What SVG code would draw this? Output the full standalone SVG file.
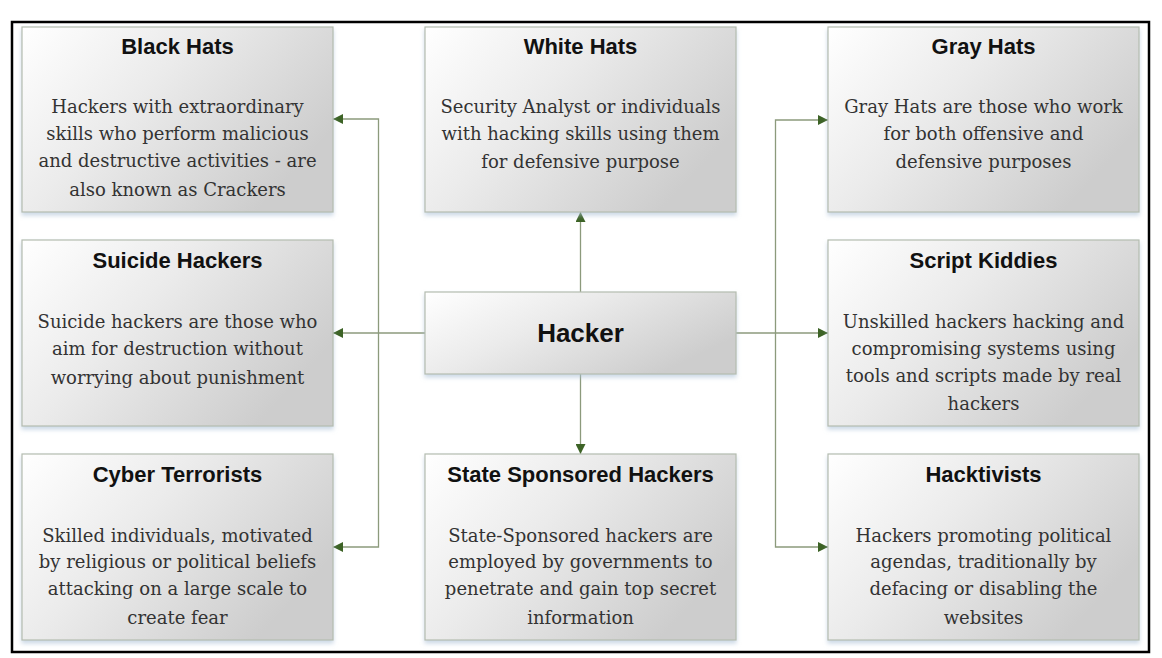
<svg xmlns="http://www.w3.org/2000/svg" width="1162" height="658" viewBox="0 0 1162 658">
<defs>
<linearGradient id="boxGrad" x1="0" y1="0" x2="1" y2="0.55">
<stop offset="0" stop-color="#ffffff"/>
<stop offset="0.45" stop-color="#ebebeb"/>
<stop offset="1" stop-color="#cdcdcd"/>
</linearGradient>
<filter id="shadow" x="-5%" y="-5%" width="110%" height="115%">
<feDropShadow dx="0" dy="3" stdDeviation="2" flood-color="#a9bfd6" flood-opacity="0.6"/>
</filter>
<marker id="arrow" viewBox="0 0 10 10" refX="10" refY="5" markerWidth="11" markerHeight="10" markerUnits="userSpaceOnUse" orient="auto">
<path d="M0,0 L10,5 L0,10 Z" fill="#3d6326"/>
</marker>
</defs>
<style>
.box{fill:url(#boxGrad);stroke:#b4bcb0;stroke-width:1.2;filter:url(#shadow)}
.title{font-family:"Liberation Sans",Arial,sans-serif;font-weight:bold;font-size:22px;fill:#111;text-anchor:middle}
.main{font-family:"Liberation Sans",Arial,sans-serif;font-weight:bold;font-size:26px;fill:#111;text-anchor:middle}
.body{font-family:"DejaVu Serif",serif;font-size:18px;fill:#333;text-anchor:middle}
.conn{fill:none;stroke:#8c9a7c;stroke-width:1.3}
</style>
<rect x="12" y="22" width="1137" height="630" fill="#ffffff" stroke="#000" stroke-width="2.5"/>
<g id="connectors">
<path class="conn" d="M425,333 H333" marker-end="url(#arrow)"/>
<path class="conn" d="M378.5,333 V119 H333" marker-end="url(#arrow)"/>
<path class="conn" d="M378.5,333 V547 H333" marker-end="url(#arrow)"/>
<path class="conn" d="M736,333 H828" marker-end="url(#arrow)"/>
<path class="conn" d="M775.5,333 V120 H828" marker-end="url(#arrow)"/>
<path class="conn" d="M775.5,333 V547 H828" marker-end="url(#arrow)"/>
<path class="conn" d="M580.5,292 V212" marker-end="url(#arrow)"/>
<path class="conn" d="M580.5,374 V454" marker-end="url(#arrow)"/>
</g>
<g id="black-hats">
<rect class="box" x="22" y="27" width="311" height="185"/>
<text class="title" x="177.5" y="54">Black Hats</text>
<text class="body" x="177.5" y="113">Hackers with extraordinary</text>
<text class="body" x="177.5" y="140">skills who perform malicious</text>
<text class="body" x="177.5" y="167">and destructive activities - are</text>
<text class="body" x="177.5" y="196">also known as Crackers</text>
</g>
<g id="white-hats">
<rect class="box" x="425" y="27" width="311" height="185"/>
<text class="title" x="580.5" y="54">White Hats</text>
<text class="body" x="580.5" y="113">Security Analyst or individuals</text>
<text class="body" x="580.5" y="140">with hacking skills using them</text>
<text class="body" x="580.5" y="168">for defensive purpose</text>
</g>
<g id="gray-hats">
<rect class="box" x="828" y="27" width="311" height="185"/>
<text class="title" x="983.5" y="54">Gray Hats</text>
<text class="body" x="983.5" y="113">Gray Hats are those who work</text>
<text class="body" x="983.5" y="140">for both offensive and</text>
<text class="body" x="983.5" y="168">defensive purposes</text>
</g>
<g id="suicide-hackers">
<rect class="box" x="22" y="240" width="311" height="186"/>
<text class="title" x="177.5" y="268">Suicide Hackers</text>
<text class="body" x="177.5" y="328">Suicide hackers are those who</text>
<text class="body" x="177.5" y="355">aim for destruction without</text>
<text class="body" x="177.5" y="384">worrying about punishment</text>
</g>
<g id="hacker">
<rect class="box" x="425" y="292" width="311" height="82"/>
<text class="main" x="580.5" y="342">Hacker</text>
</g>
<g id="script-kiddies">
<rect class="box" x="828" y="240" width="311" height="186"/>
<text class="title" x="983.5" y="268">Script Kiddies</text>
<text class="body" x="983.5" y="328">Unskilled hackers hacking and</text>
<text class="body" x="983.5" y="355">compromising systems using</text>
<text class="body" x="983.5" y="382">tools and scripts made by real</text>
<text class="body" x="983.5" y="410">hackers</text>
</g>
<g id="cyber-terrorists">
<rect class="box" x="22" y="454" width="311" height="186"/>
<text class="title" x="177.5" y="482">Cyber Terrorists</text>
<text class="body" x="177.5" y="542">Skilled individuals, motivated</text>
<text class="body" x="177.5" y="568">by religious or political beliefs</text>
<text class="body" x="177.5" y="595">attacking on a large scale to</text>
<text class="body" x="177.5" y="624">create fear</text>
</g>
<g id="state-sponsored-hackers">
<rect class="box" x="425" y="454" width="311" height="186"/>
<text class="title" x="580.5" y="482">State Sponsored Hackers</text>
<text class="body" x="580.5" y="542">State-Sponsored hackers are</text>
<text class="body" x="580.5" y="568">employed by governments to</text>
<text class="body" x="580.5" y="595">penetrate and gain top secret</text>
<text class="body" x="580.5" y="624">information</text>
</g>
<g id="hacktivists">
<rect class="box" x="828" y="454" width="311" height="186"/>
<text class="title" x="983.5" y="482">Hacktivists</text>
<text class="body" x="983.5" y="542">Hackers promoting political</text>
<text class="body" x="983.5" y="568">agendas, traditionally by</text>
<text class="body" x="983.5" y="595">defacing or disabling the</text>
<text class="body" x="983.5" y="624">websites</text>
</g>
</svg>
